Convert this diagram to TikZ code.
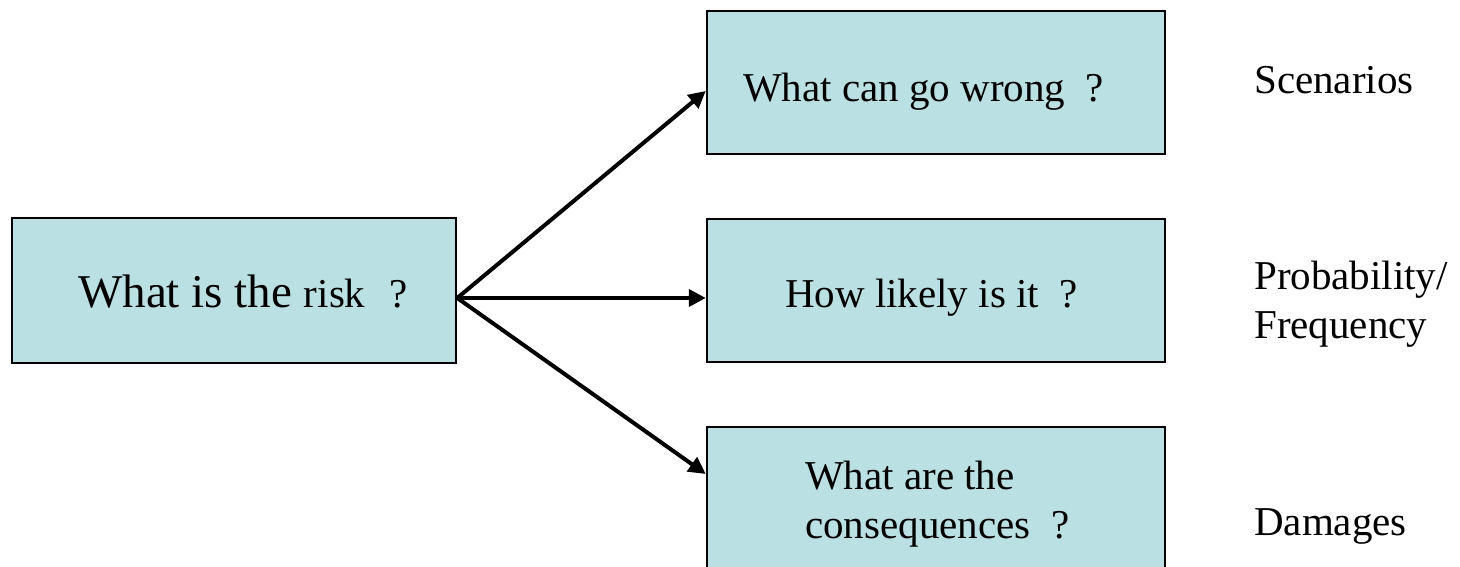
\documentclass[tikz,border=0pt]{standalone}
\usepackage{fontspec}
\setmainfont{Liberation Serif}
\usetikzlibrary{arrows.meta,calc}
\definecolor{boxfill}{RGB}{187,224,227}
\begin{document}
\begin{tikzpicture}[x=1pt,y=-1pt,
  qbox/.style={draw=black,line width=2.5pt,fill=boxfill,inner sep=0pt,
    minimum height=143pt,minimum width=458pt},
  txt/.style={inner sep=0pt,anchor=base west,font=\fontsize{41}{49}\selectfont},
  link/.style={line width=4pt,-{Triangle[length=17pt,width=17pt]}}]
\useasboundingbox (0,0) rectangle (1460,567);
% boxes
\node[qbox,minimum width=444pt,minimum height=145pt] (risk) at (234,290.5) {};
\node[qbox] (q1) at (936,82.5) {};
\node[qbox] (q2) at (936,290.5) {};
\node[qbox] (q3) at (936,498.5) {};
% texts in boxes
\node[txt] (t0) at (78,307) {\fontsize{47}{56}\selectfont What is the {\fontsize{41}{49}\selectfont risk\hspace{24pt}?}};
\node[txt] (t1) at (743,102) {What can go wrong~~?};
\node[txt,anchor=base east] (t2) at (1078,307) {How likely is it~~?};
\node[txt] (t3a) at (805,489) {What are the};
\node[txt] (t3b) at (805,538) {consequences~~?};
% side labels
\node[txt] (l1) at (1254,94) {Scenarios};
\node[txt] (l2a) at (1254,289) {Probability/};
\node[txt] (l2b) at (1254,338) {Frequency};
\node[txt] (l3) at (1254,535) {Damages};
% connectors
\coordinate (o) at ($(risk.east)+(0,7.5)$);
\draw[link] (o) -- ($(q1.west)+(0,8.5)$);
\draw[link] (o) -- ($(q2.west)+(0,7.5)$);
\draw[link] (o) -- ($(q3.west)+(0,-24.5)$);
\end{tikzpicture}
\end{document}
